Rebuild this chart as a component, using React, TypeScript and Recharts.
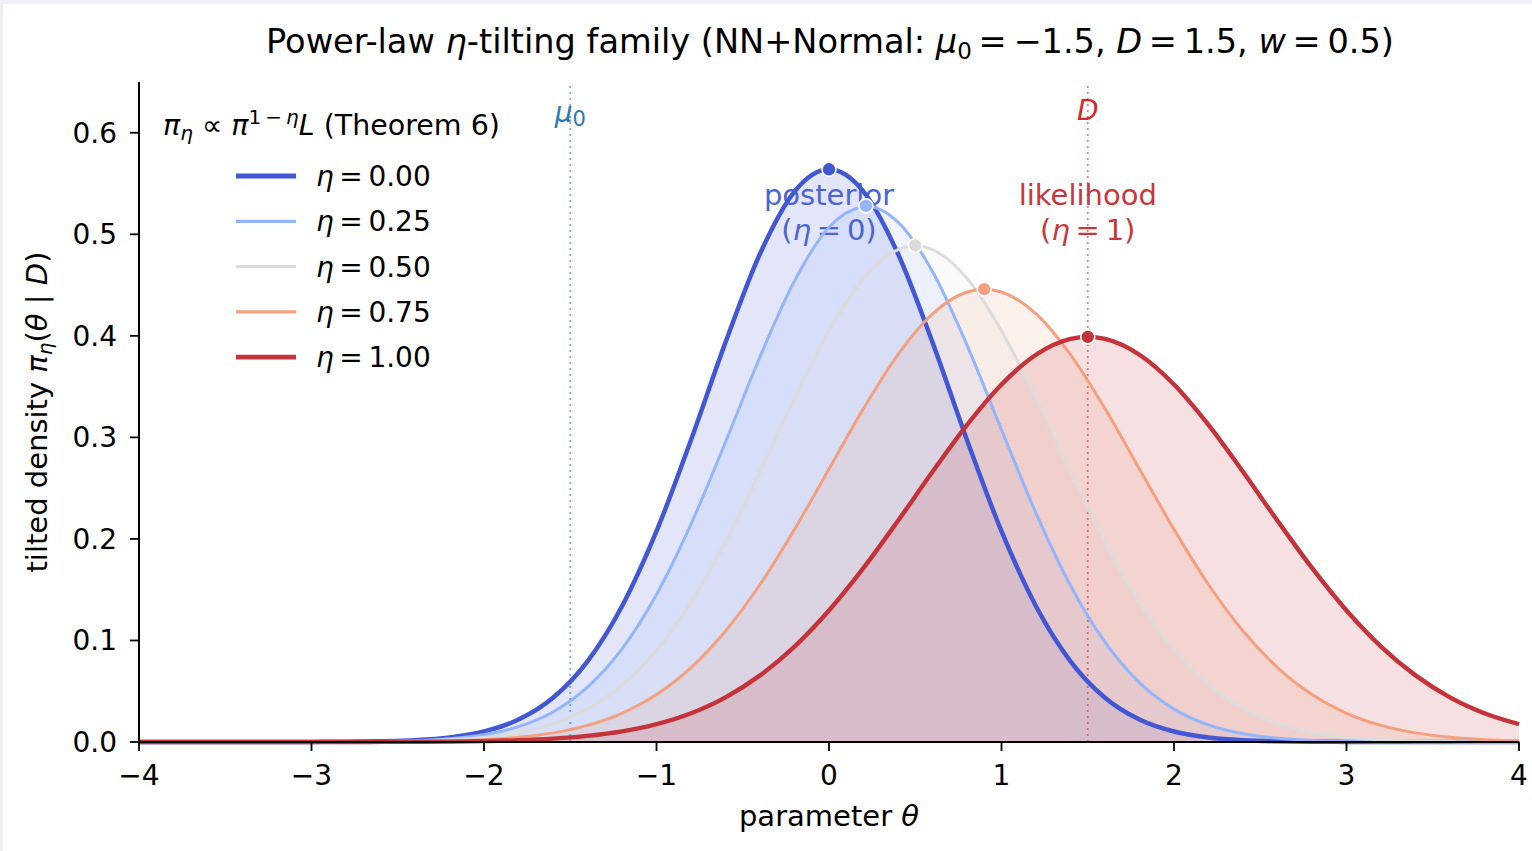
import React from 'react';
import { ComposedChart, Area, Line, XAxis, YAxis, ReferenceLine, ReferenceDot } from 'recharts';

const FONT = "'DejaVu Sans', 'Liberation Sans', sans-serif";
const EQ = '\u2009=\u2009';

// grid of theta values the curves were read at
const THETA = [
    -4, -3.8, -3.6, -3.4, -3.2, -3, -2.8, -2.6, -2.4, -2.2, -2,
    -1.8, -1.6, -1.4, -1.2, -1, -0.8, -0.6, -0.4, -0.2, 0,
    0.2, 0.4, 0.6, 0.8, 1, 1.2, 1.4, 1.6, 1.8, 2,
    2.2, 2.4, 2.6, 2.8, 3, 3.2, 3.4, 3.6, 3.8, 4,
];

const DENSITY_ETA_000 = [
    0, 0, 0, 0, 0, 0.0001, 0.0002, 0.0007, 0.0018, 0.0045, 0.0103,
    0.0221, 0.0436, 0.0795, 0.1337, 0.2076, 0.2975, 0.3936, 0.4808, 0.5421, 0.5642,
    0.5421, 0.4808, 0.3936, 0.2975, 0.2076, 0.1337, 0.0795, 0.0436, 0.0221, 0.0103,
    0.0045, 0.0018, 0.0007, 0.0002, 0.0001, 0, 0, 0, 0, 0,
];
const DENSITY_ETA_025 = [
    0, 0, 0, 0, 0, 0.0001, 0.0002, 0.0005, 0.0013, 0.0032, 0.0072,
    0.0152, 0.0296, 0.054, 0.0917, 0.1453, 0.2146, 0.2954, 0.3793, 0.4541, 0.5069,
    0.5276, 0.512, 0.4633, 0.3909, 0.3074, 0.2255, 0.1542, 0.0983, 0.0585, 0.0324,
    0.0168, 0.0081, 0.0036, 0.0015, 0.0006, 0.0002, 0.0001, 0, 0, 0,
];
const DENSITY_ETA_050 = [
    0, 0, 0, 0, 0, 0, 0.0001, 0.0004, 0.0009, 0.0021, 0.0045,
    0.0092, 0.0179, 0.0326, 0.0559, 0.0904, 0.1375, 0.1972, 0.2661, 0.3384, 0.405,
    0.4567, 0.4849, 0.4849, 0.4567, 0.405, 0.3384, 0.2661, 0.1972, 0.1375, 0.0904,
    0.0559, 0.0326, 0.0179, 0.0092, 0.0045, 0.0021, 0.0009, 0.0004, 0.0001, 0.0001,
];
const DENSITY_ETA_075 = [
    0, 0, 0, 0, 0, 0, 0.0001, 0.0002, 0.0005, 0.0011, 0.0023,
    0.0047, 0.009, 0.0164, 0.0283, 0.0467, 0.0733, 0.1093, 0.1551, 0.2094, 0.2689,
    0.3283, 0.3815, 0.4216, 0.4432, 0.4432, 0.4216, 0.3815, 0.3283, 0.2689, 0.2094,
    0.1551, 0.1093, 0.0733, 0.0467, 0.0283, 0.0164, 0.009, 0.0047, 0.0023, 0.0011,
];
const DENSITY_ETA_100 = [
    0, 0, 0, 0, 0, 0, 0, 0.0001, 0.0002, 0.0004, 0.0009,
    0.0017, 0.0033, 0.006, 0.0104, 0.0175, 0.0283, 0.044, 0.0656, 0.094, 0.1295,
    0.1714, 0.2179, 0.2661, 0.3123, 0.3521, 0.3814, 0.397, 0.397, 0.3814, 0.3521,
    0.3123, 0.2661, 0.2179, 0.1714, 0.1295, 0.094, 0.0656, 0.044, 0.0283, 0.0175,
];

const ETA_LABELS = ['0.00', '0.25', '0.50', '0.75', '1.00'];
const PEAK_THETA = [0, 0.214, 0.5, 0.9, 1.5];
const PEAK_DENSITY = [0.564, 0.528, 0.489, 0.446, 0.399];

const MU0 = -1.5;
const D_OBS = 1.5;

const X_TICKS = [-4, -3, -2, -1, 0, 1, 2, 3, 4];
const Y_TICKS = [0, 0.1, 0.2, 0.3, 0.4, 0.5, 0.6];

const LINE_COLORS = ['#4257d3', '#93b5fc', '#dcdcdc', '#f4a07f', '#c4323a'];
const LINE_WIDTHS = [4.5, 3, 3, 3, 4.4];

function buildSeries(values: number[], peakX: number, peakY: number) {
    const pts = THETA.map((x, i) => ({ x, y: values[i] })).filter(p => Math.abs(p.x - peakX) > 1e-9);
    pts.push({ x: peakX, y: peakY });
    pts.sort((a, b) => a.x - b.x);
    return pts;
}

const SERIES = [DENSITY_ETA_000, DENSITY_ETA_025, DENSITY_ETA_050, DENSITY_ETA_075, DENSITY_ETA_100].map((vals, i) => ({
    label: ETA_LABELS[i],
    color: LINE_COLORS[i],
    width: LINE_WIDTHS[i],
    data: buildSeries(vals, PEAK_THETA[i], PEAK_DENSITY[i]),
}));

const fmtX = (v: number) => (v < 0 ? `\u2212${Math.abs(v)}` : `${v}`);

const MuLabel = ({ viewBox }: any) => (
    <text x={viewBox.x} y={viewBox.y + 40} textAnchor="middle" fontFamily={FONT} fontSize={28} fill="#2b7bba">
        <tspan fontStyle="italic">μ</tspan>
        <tspan fontSize={21} dy={4}>0</tspan>
    </text>
);

const LikelihoodLabel = ({ viewBox }: any) => (
    <g fontFamily={FONT}>
        <text x={viewBox.x} y={viewBox.y + 38} textAnchor="middle" fontSize={28} fontStyle="italic" fill="#d62728">D</text>
        <text x={viewBox.x} y={viewBox.y + 123} textAnchor="middle" fontSize={29} fill="#c9363c">likelihood</text>
        <text x={viewBox.x} y={viewBox.y + 158} textAnchor="middle" fontSize={29} fill="#c9363c">
            {'('}<tspan fontStyle="italic">η</tspan>{`${EQ}1)`}
        </text>
    </g>
);

const PosteriorLabel = ({ viewBox }: any) => (
    <g fontFamily={FONT} fill="#4b63d4">
        <text x={viewBox.x} y={viewBox.y + 123} textAnchor="middle" fontSize={29}>posterior</text>
        <text x={viewBox.x} y={viewBox.y + 158} textAnchor="middle" fontSize={29}>
            {'('}<tspan fontStyle="italic">η</tspan>{`${EQ}0)`}
        </text>
    </g>
);

const XLabel = ({ viewBox }: any) => (
    <text x={viewBox.x + viewBox.width / 2} y={viewBox.y + 84} textAnchor="middle" fontFamily={FONT} fontSize={29} fill="#000">
        {'parameter '}<tspan fontStyle="italic">θ</tspan>
    </text>
);

const YLabel = ({ viewBox }: any) => {
    const cx = 44;
    const cy = viewBox.y + viewBox.height / 2;
    return (
        <text x={cx} y={cy} textAnchor="middle" transform={`rotate(-90, ${cx}, ${cy})`} fontFamily={FONT} fontSize={29} fill="#000">
            {'tilted density '}
            <tspan fontStyle="italic">π</tspan>
            <tspan fontStyle="italic" fontSize={20} dy={5}>η</tspan>
            <tspan dy={-5}>{'('}</tspan>
            <tspan fontStyle="italic">θ</tspan>
            {' | '}
            <tspan fontStyle="italic">D</tspan>
            {')'}
        </text>
    );
};

export default function App() {
    return (
        <div style={{ position: 'absolute', left: 0, top: 0, width: 1532, height: 851, background: '#eef0f3' }}>
            <div style={{ position: 'absolute', left: 3, top: 4, width: 1529, height: 847, background: '#fff' }}>
                <ComposedChart width={1529} height={847} margin={{ top: 78, right: 13, bottom: 0, left: 0 }}>
                    <XAxis
                        dataKey="x"
                        type="number"
                        domain={[-4, 4]}
                        ticks={X_TICKS}
                        tickFormatter={fmtX}
                        height={109}
                        tickSize={9}
                        tickMargin={14}
                        axisLine={{ stroke: '#000', strokeWidth: 2 }}
                        tickLine={{ stroke: '#000', strokeWidth: 1.8 }}
                        tick={{ fill: '#000', fontSize: 28, fontFamily: FONT }}
                        label={<XLabel />}
                    />
                    <YAxis
                        type="number"
                        domain={[0, 0.65]}
                        ticks={Y_TICKS}
                        tickFormatter={(v: number) => v.toFixed(1)}
                        width={136}
                        tickSize={9}
                        tickMargin={13}
                        axisLine={{ stroke: '#000', strokeWidth: 2 }}
                        tickLine={{ stroke: '#000', strokeWidth: 1.8 }}
                        tick={{ fill: '#000', fontSize: 28, fontFamily: FONT }}
                        label={<YLabel />}
                    />
                    <ReferenceLine x={MU0} stroke="#1f77b4" strokeOpacity={0.6} strokeWidth={1.8} strokeDasharray="2 4" label={<MuLabel />} />
                    <ReferenceLine x={D_OBS} stroke="#d62728" strokeOpacity={0.6} strokeWidth={1.8} strokeDasharray="2 4" label={<LikelihoodLabel />} />
                    <ReferenceLine x={0} stroke="none" label={<PosteriorLabel />} />
                    {SERIES.map(s => (
                        <Area
                            key={`fill-${s.label}`}
                            data={s.data}
                            dataKey="y"
                            type="monotone"
                            stroke="none"
                            fill={s.color}
                            fillOpacity={0.15}
                            dot={false}
                            activeDot={false}
                            isAnimationActive={false}
                        />
                    ))}
                    {SERIES.map(s => (
                        <Line
                            key={`line-${s.label}`}
                            data={s.data}
                            dataKey="y"
                            type="monotone"
                            stroke={s.color}
                            strokeWidth={s.width}
                            dot={false}
                            activeDot={false}
                            isAnimationActive={false}
                        />
                    ))}
                    {SERIES.map((s, i) => (
                        <ReferenceDot key={`peak-${s.label}`} x={PEAK_THETA[i]} y={PEAK_DENSITY[i]} r={7} fill={s.color} stroke="#fff" strokeWidth={1.6} />
                    ))}
                </ComposedChart>
            </div>
            {/* title and legend drawn on top, in page coordinates */}
            <svg width={1532} height={851} style={{ position: 'absolute', left: 0, top: 0, pointerEvents: 'none' }}>
                <text x={830} y={53} textAnchor="middle" fontFamily={FONT} fontSize={33.6} fill="#000">
                    {'Power-law '}
                    <tspan fontStyle="italic">η</tspan>
                    {'-tilting family (NN+Normal: '}
                    <tspan fontStyle="italic">μ</tspan>
                    <tspan fontSize={23} dy={6}>0</tspan>
                    <tspan dy={-6}>{`${EQ}\u22121.5, `}</tspan>
                    <tspan fontStyle="italic">D</tspan>
                    {`${EQ}1.5, `}
                    <tspan fontStyle="italic">w</tspan>
                    {`${EQ}0.5)`}
                </text>
                <text x={163} y={135} fontFamily={FONT} fontSize={28.5} fill="#000">
                    <tspan fontStyle="italic">π</tspan>
                    <tspan fontStyle="italic" fontSize={20} dy={5}>η</tspan>
                    <tspan dy={-5}>{' ∝ '}</tspan>
                    <tspan fontStyle="italic">π</tspan>
                    <tspan fontSize={20} dy={-11}>{'1\u2009\u2212\u2009'}</tspan>
                    <tspan fontSize={20} fontStyle="italic">η</tspan>
                    <tspan fontStyle="italic" dy={11}>L</tspan>
                    {' (Theorem 6)'}
                </text>
                {SERIES.map((s, i) => {
                    const y = 176 + i * 45.3;
                    return (
                        <g key={`leg-${s.label}`}>
                            <line x1={236} x2={296} y1={y} y2={y} stroke={s.color} strokeWidth={s.width + 0.3} />
                            <text x={316} y={y + 10} fontFamily={FONT} fontSize={28} fill="#000">
                                <tspan fontStyle="italic">η</tspan>
                                {`${EQ}${s.label}`}
                            </text>
                        </g>
                    );
                })}
            </svg>
        </div>
    );
}
